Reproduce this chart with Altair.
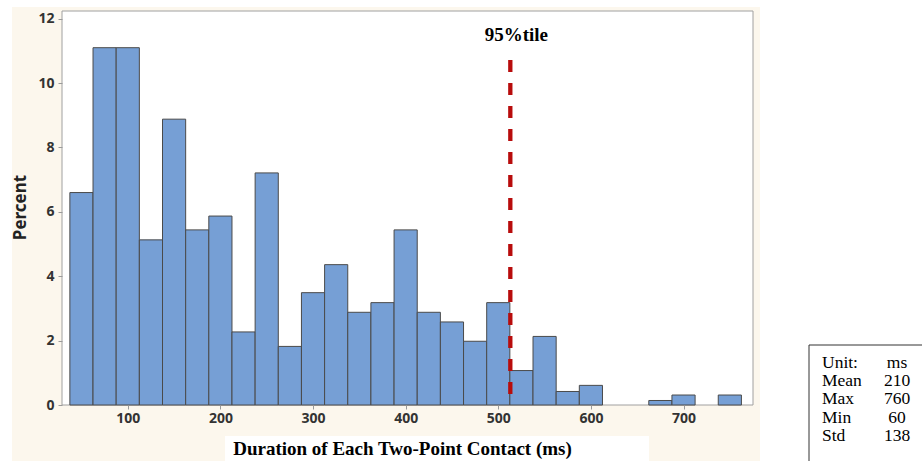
import altair as alt
import pandas as pd

# ---- data ----
bin_centers = [50, 75, 100, 125, 150, 175, 200, 225, 250, 275, 300, 325, 350, 375,
               400, 425, 450, 475, 500, 525, 550, 575, 600, 625, 650, 675, 700, 725, 750]
percents = [6.6, 11.1, 11.1, 5.13, 8.88, 5.44, 5.87, 2.27, 7.21, 1.82, 3.49, 4.36, 2.88, 3.18,
            5.44, 2.88, 2.58, 1.98, 3.18, 1.07, 2.13, 0.42, 0.61, 0, 0, 0.14, 0.31, 0, 0.31]
bin_width = 25
pct95_value = 513
pct95_top = 10.72
pct95_label = "95%tile"
stat_names = ["Unit:", "Mean", "Max", "Min", "Std"]
stat_values = ["ms", "210", "760", "60", "138"]
x_ticks = [100, 200, 300, 400, 500, 600, 700]
y_ticks = [0, 2, 4, 6, 8, 10, 12]
x_title = "Duration of Each Two-Point Contact (ms)"
y_title = "Percent"

W, H = 691, 394
CREAM = "#FCF7ED"
BAR = "#769FD5"
RED = "#B80C0C"

df = pd.DataFrame({"center": bin_centers, "pct": percents})
one = alt.Data(values=[{"k": 0}])

xs = alt.Scale(domain=[29, 775], nice=False, zero=False)
ys = alt.Scale(domain=[0, 12.24], nice=False, zero=True)

x_axis = alt.Axis(values=x_ticks, grid=False, domain=False, tickSize=4, tickColor="#9a9a9a",
                  labelFont="Noto Sans", labelFontSize=14, labelFontWeight="bold",
                  labelColor="#333333", labelPadding=2,
                  title=x_title, titleFont="Liberation Serif", titleFontSize=19,
                  titleFontWeight="bold", titleColor="#000000", titleX=340, titleY=43,
                  titleAlign="center", titleBaseline="middle", zindex=1)
y_axis = alt.Axis(values=y_ticks, grid=False, domain=False, tickSize=4, tickColor="#9a9a9a",
                  labelFont="Noto Sans", labelFontSize=14, labelFontWeight="bold",
                  labelColor="#333333", labelPadding=4,
                  title=y_title, titleFont="Noto Sans", titleFontSize=17, titleFontWeight="bold",
                  titleColor="#222222", titleX=-42, titleY=196, titleAngle=270,
                  titleAlign="center", titleBaseline="middle", zindex=1)


def X(field):
    return alt.X(field, scale=xs, axis=x_axis)


def Y(field):
    return alt.Y(field, scale=ys, axis=y_axis)


cream = alt.Chart(one).mark_rect(fill=CREAM).encode(
    x=alt.value(-50), x2=alt.value(698), y=alt.value(-4), y2=alt.value(452))

frame = alt.Chart(one).mark_rect(fill="white", stroke="#a0a0a0", strokeWidth=1).encode(
    x=alt.value(0), x2=alt.value(W), y=alt.value(0), y2=alt.value(H))

title_box = alt.Chart(one).mark_rect(fill="white").encode(
    x=alt.value(163), x2=alt.value(587), y=alt.value(425), y2=alt.value(452))

stats_box = alt.Chart(one).mark_rect(fill="white", stroke="#333333", strokeWidth=1).encode(
    x=alt.value(747), x2=alt.value(880), y=alt.value(334), y2=alt.value(470))

bars = alt.Chart(df).transform_filter("datum.pct > 0").transform_calculate(
    start=f"datum.center - {bin_width}/2", end=f"datum.center + {bin_width}/2", base="0"
).mark_bar(color=BAR, stroke="#4a4a4a", strokeWidth=1).encode(
    x=X("start:Q"), x2="end:Q", y=Y("pct:Q"), y2="base:Q")

rule_df = pd.DataFrame({"x": [pct95_value], "top": [pct95_top], "bottom": [0]})
rule = alt.Chart(rule_df).mark_rule(color=RED, strokeWidth=4.3, strokeDash=[12, 11]).encode(
    x=X("x:Q"), y=Y("top:Q"), y2="bottom:Q")

label_df = pd.DataFrame({"x": [pct95_value], "y": [11.5], "t": [pct95_label]})
label = alt.Chart(label_df).mark_text(font="Liberation Serif", fontSize=19, fontWeight="bold",
                                      align="center", baseline="middle", dx=6, color="#000000").encode(
    x=X("x:Q"), y=Y("y:Q"), text="t:N")

stats_left = alt.Chart(one).mark_text(font="Liberation Serif", fontSize=17.5, lineBreak="\n",
                                      lineHeight=18.3, align="left", baseline="middle",
                                      color="#000000").encode(
    x=alt.value(760), y=alt.value(351.7), text=alt.value("\n".join(stat_names)))

stats_right = alt.Chart(one).mark_text(font="Liberation Serif", fontSize=17.5, lineBreak="\n",
                                       lineHeight=18.3, align="center", baseline="middle",
                                       color="#000000").encode(
    x=alt.value(835), y=alt.value(351.7), text=alt.value("\n".join(stat_values)))

chart = alt.layer(cream, frame, title_box, stats_box, bars, rule, label, stats_left, stats_right).properties(
    width=W, height=H,
    autosize=alt.AutoSizeParams(type="none"),
    padding={"left": 62, "top": 11, "right": 169, "bottom": 56},
    background="white",
).configure_view(strokeWidth=0)

chart.save("out.html", embed_options={"renderer": "svg", "actions": False})
